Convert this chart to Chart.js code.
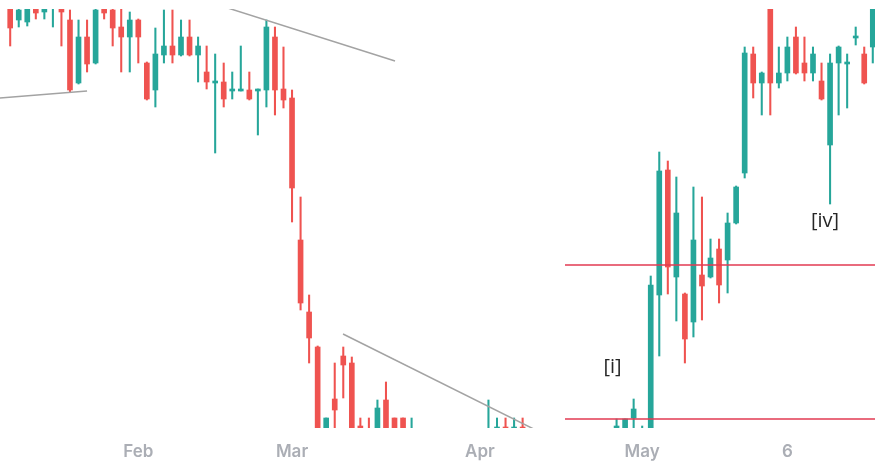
<!DOCTYPE html>
<html>
<head>
<meta charset="utf-8">
<script src="https://cdn.jsdelivr.net/npm/chart.js@4/dist/chart.umd.min.js"></script>
<style>
  html, body { margin: 0; padding: 0; background: #fff; }
  canvas { display: block; }
</style>
</head>
<body>
<canvas id="myChart" width="875" height="462"></canvas>
<script>
// candles, one per trading day (index = position on the x axis)
const opens  = [423,408,406,422,416,421,423,408,345,391,365,421,418,401,391,408,365,338,373,382,373,391,373,356,345,346,337,337,338,337,
                338,391,339,330,188,116,81,-10,29,72,65,2,-3,-8,28,10,10,-10,-10,-18,-26,-20,-30,-36,-28,-24,-20,-6,1,-6,
                1,-8,-14,-22,-12,-18,-26,-20,-16,-22,-14,-8,-5,10,-4,-2,133,258,151,134,106,153,151,179,168,205,255,374,345,421,
                345,355,391,365,355,347,283,365,364,390,374,381];
const highs  = [428,422,425,425,424,426,426,418,408,408,420,424,422,419,416,409,366,400,418,418,408,408,391,382,374,365,356,382,356,339,
                408,401,381,338,231,133,82,10,65,81,71,10,10,28,46,10,10,10,-4,-8,-16,-12,-20,-22,-14,-10,28,10,10,10,
                10,-2,-6,-10,-4,-8,-14,-10,-6,-12,-4,9,9,29,2,152,276,267,251,135,241,231,189,189,215,242,381,381,356,424,
                381,391,401,391,381,365,374,382,374,401,381,421];
const lows   = [382,401,402,409,409,401,382,336,344,356,364,409,382,356,356,365,328,321,365,365,372,372,346,339,275,321,329,337,328,293,
                321,313,320,206,118,65,-20,-15,-5,30,-15,-10,-12,-12,-10,-12,-12,-14,-24,-30,-38,-34,-44,-48,-40,-36,-25,-15,-15,-15,
                -15,-20,-26,-32,-24,-30,-36,-30,-28,-32,-24,-12,-8,0,-6,-4,72,134,107,65,91,108,150,125,135,204,250,330,313,313,
                340,347,354,347,347,328,224,313,320,383,344,365];
const closes = [400,418,421,415,420,423,416,338,391,364,418,415,400,391,408,391,329,374,382,373,391,373,382,346,347,329,339,339,329,339,
                401,338,328,240,125,90,-15,10,18,63,-10,-5,-8,20,-6,-8,-8,-6,-18,-26,-20,-30,-36,-28,-24,-16,-5,1,-8,1,
                -8,-14,-22,-12,-18,-26,-20,-16,-22,-14,-8,2,9,19,-2,143,257,161,215,89,188,142,170,143,205,241,375,345,355,345,
                355,381,355,355,374,329,365,381,366,392,345,419];

// month labels sit on these candle indices
const tickIndex = [15, 33, 55, 74, 91];
const tickText  = ['Feb', 'Mar', 'Apr', 'May', '6'];

// drawn trend lines (x = candle index, y = price)
const trendA = [{x: -2, y: 329.5}, {x: 9, y: 337}];
const trendB = [{x: 24, y: 424}, {x: 45.06, y: 367}];
const trendC = [{x: 38.97, y: 94}, {x: 62, y: -4}];
const levelHigh = [{x: 64.96, y: 163}, {x: 102, y: 163}];
const levelLow  = [{x: 64.96, y: 9}, {x: 102, y: 9}];

// wave labels
const waveLabels = [
  {text: '[i]',  x: 70.53, y: 61},
  {text: '[iv]', x: 95.41, y: 207}
];

const UP = '#26a69a', DOWN = '#ef5350';
const colors = opens.map((o, i) => closes[i] >= opens[i] ? UP : DOWN);
const wicks = opens.map((o, i) => ({x: i, y: [lows[i], highs[i]]}));
const bodies = opens.map((o, i) => {
  let a = o, b = closes[i];
  if (Math.abs(a - b) < 1.2) { b = a + (b >= a ? 1.2 : -1.2); }
  return {x: i, y: [a, b]};
});

const waveText = {
  id: 'waveText',
  afterDatasetsDraw(chart) {
    const ctx = chart.ctx, xs = chart.scales.x, ys = chart.scales.y;
    ctx.save();
    ctx.font = '20px "Open Sans", sans-serif';
    ctx.fillStyle = '#262626';
    ctx.textAlign = 'center';
    ctx.textBaseline = 'middle';
    waveLabels.forEach(l => ctx.fillText(l.text, xs.getPixelForValue(l.x), ys.getPixelForValue(l.y)));
    ctx.restore();
  }
};

function lineSet(pts, color) {
  return {
    type: 'line', data: pts, borderColor: color, borderWidth: 1.5,
    pointRadius: 0, fill: false, order: 0, tension: 0
  };
}

new Chart(document.getElementById('myChart'), {
  type: 'bar',
  data: {
    datasets: [
      lineSet(trendA, '#a3a3a3'),
      lineSet(trendB, '#a3a3a3'),
      lineSet(trendC, '#a3a3a3'),
      lineSet(levelHigh, '#e23a52'),
      lineSet(levelLow, '#e23a52'),
      { data: bodies, backgroundColor: colors, barThickness: 5, grouped: false, order: 1, borderWidth: 0 },
      { data: wicks, backgroundColor: colors, barThickness: 1.4, grouped: false, order: 2, borderWidth: 0 }
    ]
  },
  options: {
    responsive: false,
    animation: false,
    devicePixelRatio: 1,
    layout: { padding: { top: 9, left: 0, right: 0, bottom: 0 } },
    plugins: {
      legend: { display: false },
      tooltip: { enabled: false }
    },
    scales: {
      x: {
        type: 'linear',
        offset: false,
        min: -1.194,
        max: 101.26,
        grid: { display: false },
        border: { display: false },
        afterBuildTicks: (axis) => { axis.ticks = tickIndex.map(v => ({value: v})); },
        afterFit: (axis) => { axis.height = 34; },
        ticks: {
          autoSkip: false,
          maxRotation: 0,
          padding: 6,
          color: '#abaeb5',
          font: { family: 'Inter', size: 17, weight: '600' },
          callback: (v, i) => tickText[i]
        }
      },
      y: {
        display: false,
        min: 0,
        max: 419
      }
    }
  },
  plugins: [waveText]
});
</script>
</body>
</html>
